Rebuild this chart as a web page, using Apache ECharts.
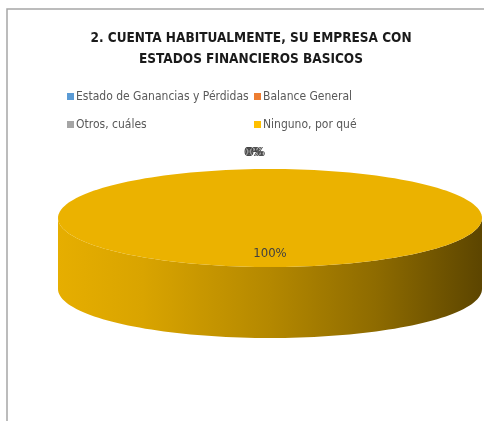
<!DOCTYPE html>
<html>
<head>
<meta charset="utf-8">
<script src="https://cdn.jsdelivr.net/npm/echarts@6/dist/echarts.min.js"></script>
<style>
html,body{margin:0;padding:0;background:#fff;}
#main{width:484px;height:421px;}
</style>
</head>
<body>
<div id="main"></div>
<script>
// ---- data ----
var titleText = "2. CUENTA HABITUALMENTE, SU EMPRESA CON\nESTADOS FINANCIEROS BASICOS";
var categories = ["Estado de Ganancias y Pérdidas", "Balance General", "Otros, cuáles", "Ninguno, por qué"];
var percents = [0, 0, 0, 100];
var colors = ["#5B9BD5", "#ED7D31", "#A5A5A5", "#FFC000"];

// ---- layout ----
var FONT = '"Liberation Sans Narrow","DejaVu Sans Condensed",sans-serif';
var CX = 270, CY = 218, RX = 212, RY = 49, DEPTH = 71;
var total = percents.reduce(function(a,b){return a+b;},0);
var starts = [];
(function(){var acc=0;for(var i=0;i<percents.length;i++){starts.push(acc);acc+=percents[i];}})();

var topColors = ["#5B9BD5", "#ED7D31", "#A5A5A5", "#EBB200"];
var sideStops = [
  [{offset:0,color:'#4f87bb'},{offset:1,color:'#1f3a55'}],
  [{offset:0,color:'#d06a28'},{offset:1,color:'#5e2f10'}],
  [{offset:0,color:'#969696'},{offset:1,color:'#454545'}],
  [{offset:0,color:'#E6AE00'},{offset:0.2,color:'#D9A400'},{offset:0.5,color:'#B48800'},{offset:0.75,color:'#8E6B00'},{offset:1,color:'#5C4500'}]
];

function pt(theta, dy){
  return [CX + RX*Math.sin(theta), CY - RY*Math.cos(theta) + (dy||0)];
}
function arcPts(a0, a1, dy){
  var pts=[], n=Math.max(2, Math.ceil(Math.abs(a1-a0)/(Math.PI/90)));
  for(var k=0;k<=n;k++){pts.push(pt(a0+(a1-a0)*k/n, dy));}
  return pts;
}

function renderItem(params, api){
  var i = api.value(0);
  var v = api.value(1);
  var a0 = starts[i]/total*2*Math.PI, a1 = (starts[i]+v)/total*2*Math.PI;
  var children = [];
  if (v > 0){
    var s0 = Math.max(a0, Math.PI/2), s1 = Math.min(a1, 3*Math.PI/2);
    if (s1 > s0){
      var topArc = arcPts(s0, s1, 0);
      var botArc = arcPts(s1, s0, DEPTH);
      children.push({type:'polygon', shape:{points: topArc.concat(botArc)},
        style:{fill:{type:'linear',x:CX-RX,y:0,x2:CX+RX,y2:0,global:true,colorStops:sideStops[i]}, stroke:null}});
    }
    var pts = arcPts(a0, a1, 0);
    if (v < total) pts = [[CX,CY]].concat(pts);
    children.push({type:'polygon', shape:{points: pts}, style:{fill: topColors[i], stroke:null}});
  }
  var mid = (a0+a1)/2;
  var share = v/total;
  var lx, ly;
  if (share < 0.05){
    var p = pt(mid, 0);
    lx = p[0] - 17 + i*1.5; ly = CY - RY - 16;
  } else {
    lx = CX + 0.7*RX*Math.sin(mid); ly = CY - 0.7*RY*Math.cos(mid) + 1;
  }
  children.push({type:'text', x: lx, y: ly, style:{text: Math.round(share*100)+'%', textAlign:'center', textVerticalAlign:'middle',
    font:'13px ' + FONT, fill:'#404040'}});
  return {type:'group', children: children};
}

var chart = echarts.init(document.getElementById('main'), null, {renderer:'canvas'});
var option = {
  animation:false,
  color: colors,
  title:{text:titleText, left:246, textAlign:'center', top:23, textStyle:{fontFamily:FONT, fontWeight:'bold', fontSize:13.5, color:'#1a1a1a', lineHeight:21}},
  legend:{
    left:62, top:79, width:420, orient:'horizontal', itemWidth:7, itemHeight:7, itemGap:3,
    icon:'rect',
    data: categories,
    textStyle:{fontFamily:FONT, fontSize:12, color:'#595959', width:175, overflow:'none', lineHeight:25, padding:[0,0,0,-3]}
  },
  graphic:[{type:'rect', shape:{x:7,y:9,width:600,height:600}, style:{fill:null, stroke:'#A6A6A6', lineWidth:1.5}, silent:true, z:100}],
  series: categories.map(function(c,i){
    return {
      type:'custom',
      coordinateSystem:'none',
      name:c,
      itemStyle:{color:colors[i]},
      data: [[i, percents[i]]],
      renderItem: renderItem
    };
  })
};
chart.setOption(option);
</script>
</body>
</html>
